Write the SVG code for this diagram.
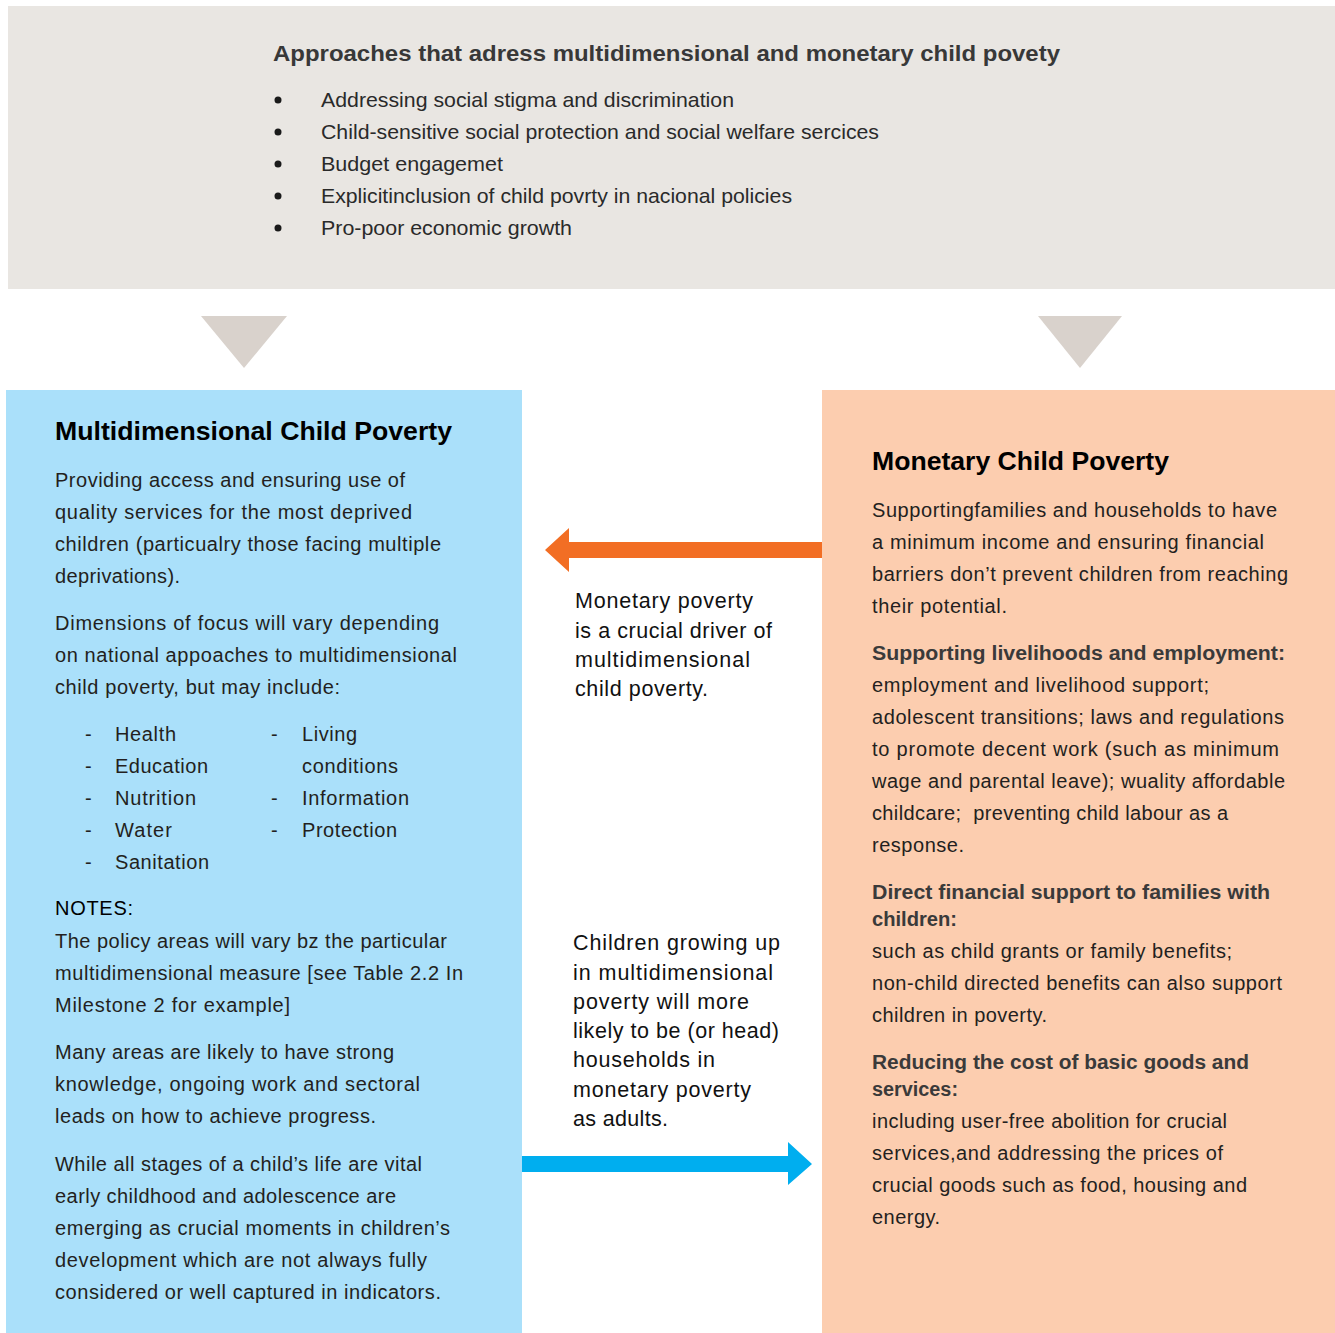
<svg xmlns="http://www.w3.org/2000/svg" width="1335" height="1333" viewBox="0 0 1335 1333">
  <style>
    .bg { fill: #ffffff; }
    .approach-box { fill: #E9E6E2; }
    .multi-box { fill: #AAE0FA; }
    .money-box { fill: #FCCDAF; }
    .chevron { fill: #D9D2CC; }
    .head-top { font-family: "Liberation Sans", Arial, sans-serif; font-weight: bold; font-size: 22px; fill: #383838; }
    .item-top { font-family: "Liberation Sans", Arial, sans-serif; font-size: 21px; fill: #2a2a2a; }
    .title { font-family: "Liberation Sans", Arial, sans-serif; font-weight: bold; font-size: 25px; fill: #000000; }
    .body { font-family: "Liberation Sans", Arial, sans-serif; font-size: 20px; fill: #231F20; }
    .sub { font-family: "Liberation Sans", Arial, sans-serif; font-weight: bold; font-size: 20px; fill: #3A3A3A; }
    .note { font-family: "Liberation Sans", Arial, sans-serif; font-size: 21.5px; fill: #111111; }
    .dot { fill: #1a1a1a; }
  </style>

  <rect class="bg" x="0" y="0" width="1335" height="1333"/>

  <!-- Approaches panel -->
  <g id="approaches">
    <rect class="approach-box" x="8" y="6" width="1327" height="283"/>
    <text class="head-top" x="273" y="61" textLength="787" lengthAdjust="spacingAndGlyphs">Approaches that adress multidimensional and monetary child povety</text>
    <circle class="dot" cx="278" cy="100" r="3.5"/>
    <circle class="dot" cx="278" cy="132" r="3.5"/>
    <circle class="dot" cx="278" cy="164" r="3.5"/>
    <circle class="dot" cx="278" cy="196" r="3.5"/>
    <circle class="dot" cx="278" cy="228" r="3.5"/>
    <text class="item-top" x="321" y="107" textLength="413" lengthAdjust="spacingAndGlyphs">Addressing social stigma and discrimination</text>
    <text class="item-top" x="321" y="139" textLength="558" lengthAdjust="spacingAndGlyphs">Child-sensitive social protection and social welfare sercices</text>
    <text class="item-top" x="321" y="171" textLength="182" lengthAdjust="spacingAndGlyphs">Budget engagemet</text>
    <text class="item-top" x="321" y="203" textLength="471" lengthAdjust="spacingAndGlyphs">Explicitinclusion of child povrty in nacional policies</text>
    <text class="item-top" x="321" y="235" textLength="251" lengthAdjust="spacingAndGlyphs">Pro-poor economic growth</text>
  </g>

  <!-- Multidimensional child poverty panel -->
  <g id="multidimensional">
    <rect class="multi-box" x="6" y="390" width="516" height="943"/>
    <text class="title" x="55" y="440" textLength="397" lengthAdjust="spacingAndGlyphs">Multidimensional Child Poverty</text>
    <text class="body" x="55" y="487" textLength="350">Providing access and ensuring use of</text>
    <text class="body" x="55" y="519" textLength="357">quality services for the most deprived</text>
    <text class="body" x="55" y="551" textLength="386">children (particualry those facing multiple</text>
    <text class="body" x="55" y="583" textLength="125">deprivations).</text>
    <text class="body" x="55" y="630" textLength="384">Dimensions of focus will vary depending</text>
    <text class="body" x="55" y="662" textLength="402">on national appoaches to multidimensional</text>
    <text class="body" x="55" y="694" textLength="285">child poverty, but may include:</text>

    <text class="body" x="85" y="741">-</text>
    <text class="body" x="85" y="773">-</text>
    <text class="body" x="85" y="805">-</text>
    <text class="body" x="85" y="837">-</text>
    <text class="body" x="85" y="869">-</text>
    <text class="body" x="115" y="741" textLength="61">Health</text>
    <text class="body" x="115" y="773" textLength="93">Education</text>
    <text class="body" x="115" y="805" textLength="81">Nutrition</text>
    <text class="body" x="115" y="837" textLength="57">Water</text>
    <text class="body" x="115" y="869" textLength="94">Sanitation</text>

    <text class="body" x="271" y="741">-</text>
    <text class="body" x="271" y="805">-</text>
    <text class="body" x="271" y="837">-</text>
    <text class="body" x="302" y="741" textLength="55">Living</text>
    <text class="body" x="302" y="773" textLength="96">conditions</text>
    <text class="body" x="302" y="805" textLength="107">Information</text>
    <text class="body" x="302" y="837" textLength="95">Protection</text>

    <text class="body" x="55" y="915" textLength="78" style="fill:#000000">NOTES:</text>
    <text class="body" x="55" y="948" textLength="392">The policy areas will vary bz the particular</text>
    <text class="body" x="55" y="980" textLength="408">multidimensional measure [see Table 2.2 In</text>
    <text class="body" x="55" y="1012" textLength="235">Milestone 2 for example]</text>
    <text class="body" x="55" y="1059" textLength="339">Many areas are likely to have strong</text>
    <text class="body" x="55" y="1091" textLength="365">knowledge, ongoing work and sectoral</text>
    <text class="body" x="55" y="1123" textLength="321">leads on how to achieve progress.</text>
    <text class="body" x="55" y="1171" textLength="367">While all stages of a child’s life are vital</text>
    <text class="body" x="55" y="1203" textLength="341">early childhood and adolescence are</text>
    <text class="body" x="55" y="1235" textLength="395">emerging as crucial moments in children’s</text>
    <text class="body" x="55" y="1267" textLength="372">development which are not always fully</text>
    <text class="body" x="55" y="1299" textLength="386">considered or well captured in indicators.</text>
  </g>

  <!-- Monetary child poverty panel -->
  <g id="monetary">
    <rect class="money-box" x="822" y="390" width="513" height="943"/>
    <text class="title" x="872" y="470" textLength="297" lengthAdjust="spacingAndGlyphs">Monetary Child Poverty</text>
    <text class="body" x="872" y="517" textLength="405">Supportingfamilies and households to have</text>
    <text class="body" x="872" y="549" textLength="392">a minimum income and ensuring financial</text>
    <text class="body" x="872" y="581" textLength="416">barriers don’t prevent children from reaching</text>
    <text class="body" x="872" y="613" textLength="135">their potential.</text>

    <text class="sub" x="872" y="660" textLength="413" lengthAdjust="spacingAndGlyphs">Supporting livelihoods and employment:</text>
    <text class="body" x="872" y="692" textLength="337">employment and livelihood support;</text>
    <text class="body" x="872" y="724" textLength="412">adolescent transitions; laws and regulations</text>
    <text class="body" x="872" y="756" textLength="407">to promote decent work (such as minimum</text>
    <text class="body" x="872" y="788" textLength="413">wage and parental leave); wuality affordable</text>
    <text class="body" x="872" y="820" textLength="356" xml:space="preserve">childcare;  preventing child labour as a</text>
    <text class="body" x="872" y="852" textLength="92">response.</text>

    <text class="sub" x="872" y="899" textLength="398" lengthAdjust="spacingAndGlyphs">Direct financial support to families with</text>
    <text class="sub" x="872" y="926" textLength="85" lengthAdjust="spacingAndGlyphs">children:</text>
    <text class="body" x="872" y="958" textLength="360">such as child grants or family benefits;</text>
    <text class="body" x="872" y="990" textLength="410">non-child directed benefits can also support</text>
    <text class="body" x="872" y="1022" textLength="175">children in poverty.</text>

    <text class="sub" x="872" y="1069" textLength="377" lengthAdjust="spacingAndGlyphs">Reducing the cost of basic goods and</text>
    <text class="sub" x="872" y="1096" textLength="86" lengthAdjust="spacingAndGlyphs">services:</text>
    <text class="body" x="872" y="1128" textLength="355">including user-free abolition for crucial</text>
    <text class="body" x="872" y="1160" textLength="351">services,and addressing the prices of</text>
    <text class="body" x="872" y="1192" textLength="375">crucial goods such as food, housing and</text>
    <text class="body" x="872" y="1224" textLength="68">energy.</text>
  </g>

  <!-- Connectors: downward chevrons and the two causal arrows with their labels -->
  <g id="connectors">
    <polygon class="chevron" points="201,316 287,316 244,368"/>
    <polygon class="chevron" points="1038,316 1122,316 1080,368"/>

    <!-- monetary -> multidimensional -->
    <polygon fill="#F26E24" points="822,542 569,542 569,528 545,550 569,572 569,558 822,558"/>
    <g id="label-monetary-driver">
      <text class="note" x="575" y="608" textLength="178">Monetary poverty</text>
      <text class="note" x="575" y="638" textLength="197">is a crucial driver of</text>
      <text class="note" x="575" y="667" textLength="175">multidimensional</text>
      <text class="note" x="575" y="696" textLength="133">child poverty.</text>
    </g>

    <!-- multidimensional -> monetary -->
    <polygon fill="#00AEEF" points="522,1156 788,1156 788,1142 812,1164 788,1185 788,1172 522,1172"/>
    <g id="label-intergenerational">
      <text class="note" x="573" y="950" textLength="207">Children growing up</text>
      <text class="note" x="573" y="980" textLength="200">in multidimensional</text>
      <text class="note" x="573" y="1009" textLength="176">poverty will more</text>
      <text class="note" x="573" y="1038" textLength="206">likely to be (or head)</text>
      <text class="note" x="573" y="1067" textLength="142">households in</text>
      <text class="note" x="573" y="1097" textLength="178">monetary poverty</text>
      <text class="note" x="573" y="1126" textLength="95">as adults.</text>
    </g>
  </g>
</svg>
